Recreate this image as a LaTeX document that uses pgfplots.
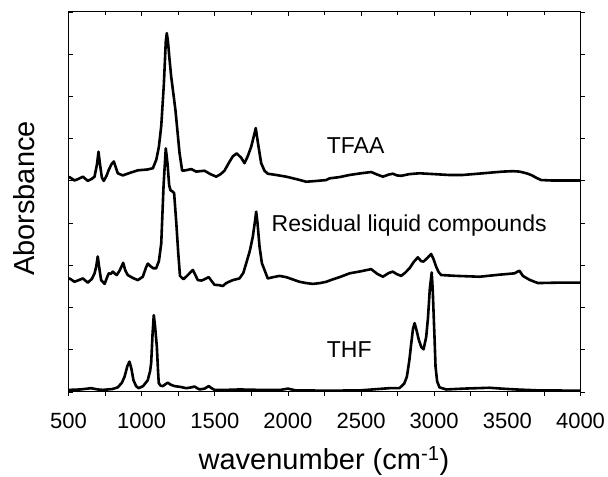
\documentclass[border=0pt]{standalone}
\usepackage{pgfplots}
\pgfplotsset{compat=1.18}
\usepackage{fontspec}
\setmainfont{Liberation Sans}
\begin{document}
\begin{tikzpicture}
\begin{axis}[
  scale only axis, width=512pt, height=380pt,
  xmin=500, xmax=4000, ymin=0, ymax=9,
  xtick={500,1000,...,4000}, minor x tick num=1,
  ytick={0,1,...,9}, yticklabels={},
  tick align=outside, xtick pos=bottom, ytick pos=right,
  major tick length=4pt, minor tick length=4pt,
  /pgf/number format/assume math mode=true,
  /pgf/number format/1000 sep={},
  tick label style={font=\fontsize{22}{25}\selectfont},
  xticklabel style={anchor=base, yshift=-33pt},
  axis line style={line width=1pt},
  every tick/.style={line width=0.8pt, black},
  xlabel={wavenumber (cm\textsuperscript{-1})},
  ylabel={Aborsbance},
  label style={font=\fontsize{29}{32}\selectfont},
  xlabel style={at={(axis description cs:0.499,-0.203)}, anchor=base},
  ylabel style={at={(axis description cs:-0.066,0.509)}, anchor=base},
  clip=true,
]
\addplot[black, line width=2.6pt, line join=round] coordinates {
(500,5.08)(507,5.09)(541,5.01)(570,5.05)(598,5.10)(632,5.00)(660,5.05)(678,5.10)
(695,5.40)(705,5.69)(715,5.40)(728,5.08)(741,5.00)(760,5.12)(775,5.26)(795,5.40)
(810,5.46)(825,5.30)(837,5.18)(871,5.13)(920,5.19)(974,5.25)(1040,5.27)(1077,5.30)
(1100,5.50)(1118,5.81)(1134,6.30)(1152,7.30)(1165,8.30)(1172,8.50)(1180,8.30)(1190,7.90)
(1202,7.47)(1231,6.68)(1259,5.66)(1277,5.24)(1300,5.25)(1339,5.28)(1373,5.22)
(1400,5.23)(1430,5.24)(1470,5.16)(1510,5.10)(1540,5.16)(1566,5.24)(1600,5.45)
(1623,5.58)(1650,5.65)(1680,5.55)(1703,5.42)(1725,5.58)(1749,5.81)(1770,6.10)
(1780,6.25)(1795,5.90)(1817,5.42)(1840,5.24)(1862,5.17)(1920,5.14)(1988,5.10)
(2060,5.04)(2125,4.98)(2200,5.00)(2262,5.02)(2284,5.06)(2353,5.09)(2421,5.14)
(2500,5.18)(2569,5.21)(2610,5.15)(2649,5.10)(2690,5.15)(2717,5.17)(2745,5.13)
(2774,5.12)(2830,5.16)(2899,5.18)(3000,5.16)(3100,5.14)(3195,5.14)(3300,5.17)
(3400,5.20)(3469,5.22)(3540,5.23)(3583,5.22)(3630,5.18)(3663,5.14)(3700,5.07)
(3731,5.02)(3800,5.01)(3900,5.01)(4000,5.01)
};
\addplot[black, line width=2.6pt, line join=round] coordinates {
(500,2.68)(507,2.69)(541,2.61)(570,2.65)(598,2.69)(632,2.59)(660,2.68)(678,2.81)
(690,2.98)(700,3.21)(712,2.90)(723,2.65)(747,2.56)(762,2.70)(775,2.81)(790,2.80)
(803,2.85)(818,2.80)(830,2.77)(850,2.88)(874,3.06)(888,2.88)(905,2.77)(940,2.70)
(974,2.65)(1008,2.73)(1030,2.95)(1042,3.04)(1060,2.98)(1080,2.93)(1099,2.93)
(1118,3.10)(1134,3.52)(1150,4.90)(1165,5.77)(1177,5.40)(1188,4.90)(1197,4.78)
(1210,4.75)(1222,4.71)(1237,4.00)(1250,3.30)(1262,2.75)(1286,2.67)(1310,2.75)
(1327,2.81)(1350,2.89)(1370,2.75)(1384,2.65)(1410,2.64)(1430,2.67)(1459,2.72)
(1480,2.62)(1498,2.54)(1530,2.53)(1555,2.51)(1578,2.58)(1623,2.65)(1669,2.69)
(1695,2.82)(1715,3.05)(1740,3.35)(1760,3.68)(1775,4.05)(1783,4.27)(1792,4.00)
(1806,3.44)(1822,3.05)(1840,2.89)(1862,2.69)(1900,2.72)(1942,2.75)(1988,2.72)
(2030,2.67)(2079,2.61)(2125,2.58)(2170,2.56)(2220,2.58)(2262,2.61)(2300,2.66)
(2353,2.72)(2421,2.81)(2500,2.86)(2569,2.91)(2610,2.80)(2649,2.73)(2690,2.82)
(2717,2.85)(2745,2.79)(2774,2.75)(2800,2.82)(2831,2.93)(2860,3.08)(2888,3.19)
(2910,3.10)(2927,3.09)(2955,3.18)(2979,3.27)(2995,3.15)(3013,2.97)(3030,2.84)
(3048,2.77)(3150,2.75)(3310,2.73)(3450,2.78)(3549,2.81)(3575,2.86)(3583,2.87)
(3606,2.75)(3650,2.66)(3708,2.58)(3850,2.59)(4000,2.59)
};
\addplot[black, line width=2.6pt, line join=round] coordinates {
(500,0.05)(507,0.05)(580,0.06)(655,0.09)(700,0.06)(734,0.05)(800,0.07)(837,0.11)
(865,0.22)(883,0.36)(903,0.62)(917,0.72)(930,0.55)(944,0.28)(962,0.14)(979,0.09)
(1010,0.14)(1042,0.28)(1058,0.50)(1065,0.68)(1075,1.40)(1083,1.82)(1092,1.55)
(1104,1.07)(1112,0.50)(1117,0.21)(1130,0.15)(1145,0.14)(1165,0.19)(1179,0.22)
(1200,0.17)(1225,0.14)(1265,0.12)(1305,0.09)(1340,0.11)(1361,0.13)(1380,0.09)
(1396,0.06)(1430,0.08)(1459,0.14)(1478,0.09)(1498,0.05)(1580,0.05)(1669,0.06)
(1806,0.05)(1950,0.05)(2000,0.08)(2050,0.04)(2284,0.03)(2500,0.04)(2692,0.09)
(2762,0.09)(2795,0.20)(2813,0.36)(2830,0.75)(2843,1.15)(2855,1.50)(2866,1.63)
(2880,1.45)(2895,1.23)(2912,1.06)(2927,1.01)(2945,1.30)(2957,1.74)(2970,2.45)
(2983,2.83)(2990,2.40)(2995,1.94)(3003,1.20)(3009,0.60)(3020,0.25)(3036,0.11)
(3082,0.06)(3200,0.08)(3378,0.10)(3460,0.08)(3560,0.06)(3700,0.04)(4000,0.03)
};
\node[anchor=base west, font=\fontsize{23}{26}\selectfont, inner sep=0pt] at (axis cs:2265,5.65) {TFAA};
\node[anchor=base west, font=\fontsize{23}{26}\selectfont, inner sep=0pt] at (axis cs:1888,3.80) {Residual liquid compounds};
\node[anchor=base west, font=\fontsize{23}{26}\selectfont, inner sep=0pt] at (axis cs:2265,0.82) {THF};
\end{axis}
\begin{axis}[
  scale only axis, width=512pt, height=380pt,
  xmin=500, xmax=4000, ymin=0, ymax=9,
  xtick={500,1000,...,4000}, minor x tick num=1,
  ytick={0,1,...,9},
  xticklabels={}, yticklabels={},
  tick align=inside, xtick pos=top, ytick pos=left,
  major tick length=4pt, minor tick length=3pt,
  axis line style={line width=1pt},
  every tick/.style={line width=0.8pt, black},
]
\end{axis}
\pgfresetboundingbox
\path ([shift={(-68.5pt,-84.7pt)}]current axis.south west) rectangle ([shift={(27.5pt,12pt)}]current axis.north east);
\end{tikzpicture}
\end{document}
